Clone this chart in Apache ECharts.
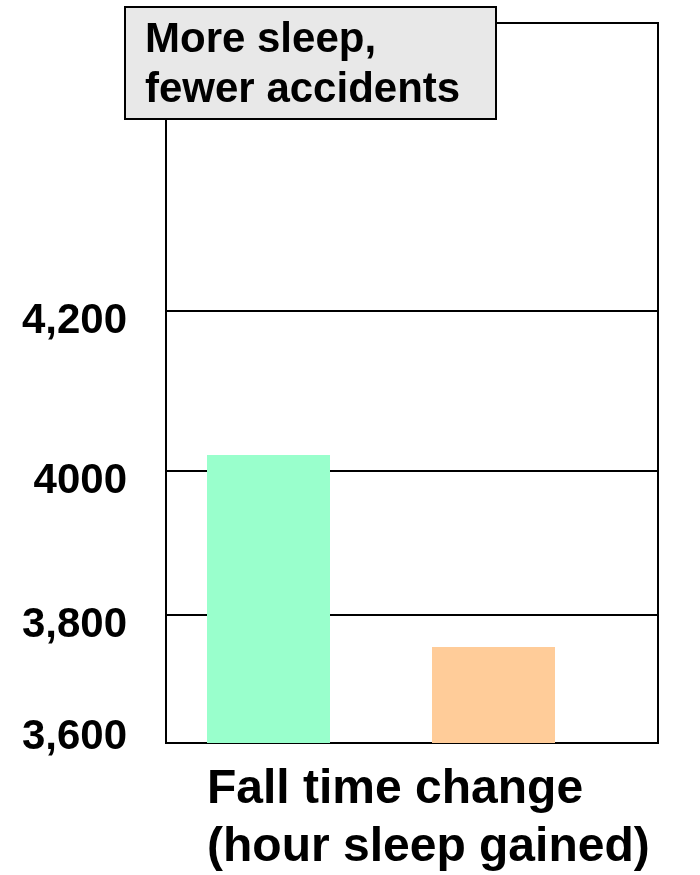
<!DOCTYPE html>
<html>
<head>
<meta charset="utf-8">
<script src="https://cdn.jsdelivr.net/npm/echarts@6/dist/echarts.min.js"></script>
<style>
html, body { margin: 0; padding: 0; background: #ffffff; }
#chart { width: 700px; height: 875px; }
</style>
</head>
<body>
<div id="chart"></div>
<script>
// ---- data ----
const categories = ['Before change', 'After change'];
const accidents = [4020, 3750];
const tickValues = [3600, 3800, 4000, 4200];
const tickLabels = ['3,600', '3,800', '4000', '4,200'];
const axisMinValue = 3600;
const axisMaxValue = 4560;
const titleText = 'More sleep,\nfewer accidents';
const xAxisTitle = 'Fall time change\n(hour sleep gained)';

// ---- style ----
const barColors = ['#99FFCC', '#FFCC99'];
// the reference axis is not evenly spaced: relative heights of the bands between gridlines
const bandHeights = [8, 9, 10];
const FONT = '"Liberation Sans", Arial, Helvetica, sans-serif';

function toAxis(v) {
  let pos = 0;
  for (let i = 0; i < tickValues.length - 1; i++) {
    const a = tickValues[i], b = tickValues[i + 1];
    if (v <= b || i === tickValues.length - 2) {
      return pos + (v - a) / (b - a) * bandHeights[i];
    }
    pos += bandHeights[i];
  }
  return pos;
}

const tickPos = tickValues.map(toAxis);
const yMin = toAxis(axisMinValue);
const yMax = toAxis(axisMaxValue);

const labelFont = { fontFamily: FONT, fontSize: 42, fontWeight: 'bold', color: '#000' };

const chart = echarts.init(document.getElementById('chart'), null, { renderer: 'canvas' });
chart.setOption({
  animation: false,
  backgroundColor: '#ffffff',
  title: {
    text: titleText,
    left: 125,
    top: 7,
    backgroundColor: '#E8E8E8',
    borderColor: '#000',
    borderWidth: 2,
    padding: [8, 36, 4, 20],
    textStyle: { fontFamily: FONT, fontSize: 42, fontWeight: 'bold', color: '#000', lineHeight: 50 }
  },
  grid: [
    { left: 166, right: 42, top: 23, height: 720, outerBoundsMode: 'none', containLabel: false,
      show: true, borderColor: '#000', borderWidth: 2, backgroundColor: 'transparent' },
    { left: 156, width: 450, top: 23, height: 720, outerBoundsMode: 'none', containLabel: false }
  ],
  xAxis: [
    { gridIndex: 0, type: 'value', show: false },
    {
      gridIndex: 1, type: 'category', data: categories,
      axisLine: { show: false }, axisTick: { show: false }, axisLabel: { show: false },
      splitLine: { show: false },
      name: xAxisTitle,
      nameLocation: 'start',
      nameGap: -51,
      nameTextStyle: {
        fontFamily: FONT, fontSize: 48, fontWeight: 'bold', color: '#000',
        lineHeight: 58, align: 'left', verticalAlign: 'top', padding: [18, 0, 0, 0]
      }
    }
  ],
  yAxis: [
    {
      gridIndex: 0, type: 'value', min: yMin, max: yMax,
      axisLine: { show: true, lineStyle: { color: '#000', width: 2 } },
      axisTick: { show: false, customValues: tickPos },
      splitLine: { show: true, lineStyle: { color: '#000', width: 2 } },
      axisLabel: {
        customValues: tickPos,
        margin: 39,
        formatter: function (val) {
          const i = tickPos.findIndex(p => Math.abs(p - val) < 1e-6);
          if (i < 0) return '';
          return (i === 0 ? '{up|' : '{dn|') + tickLabels[i] + '}';
        },
        rich: {
          up: Object.assign({ padding: [0, 0, 12, 0] }, labelFont),
          dn: Object.assign({ padding: [20, 0, 0, 0] }, labelFont)
        }
      }
    },
    { gridIndex: 1, type: 'value', min: yMin, max: yMax, show: false, splitLine: { show: false } }
  ],
  series: [{
    type: 'bar',
    xAxisIndex: 1,
    yAxisIndex: 1,
    barWidth: 123,
    data: accidents.map((v, i) => ({ value: toAxis(v), itemStyle: { color: barColors[i] } }))
  }]
});
</script>
</body>
</html>
